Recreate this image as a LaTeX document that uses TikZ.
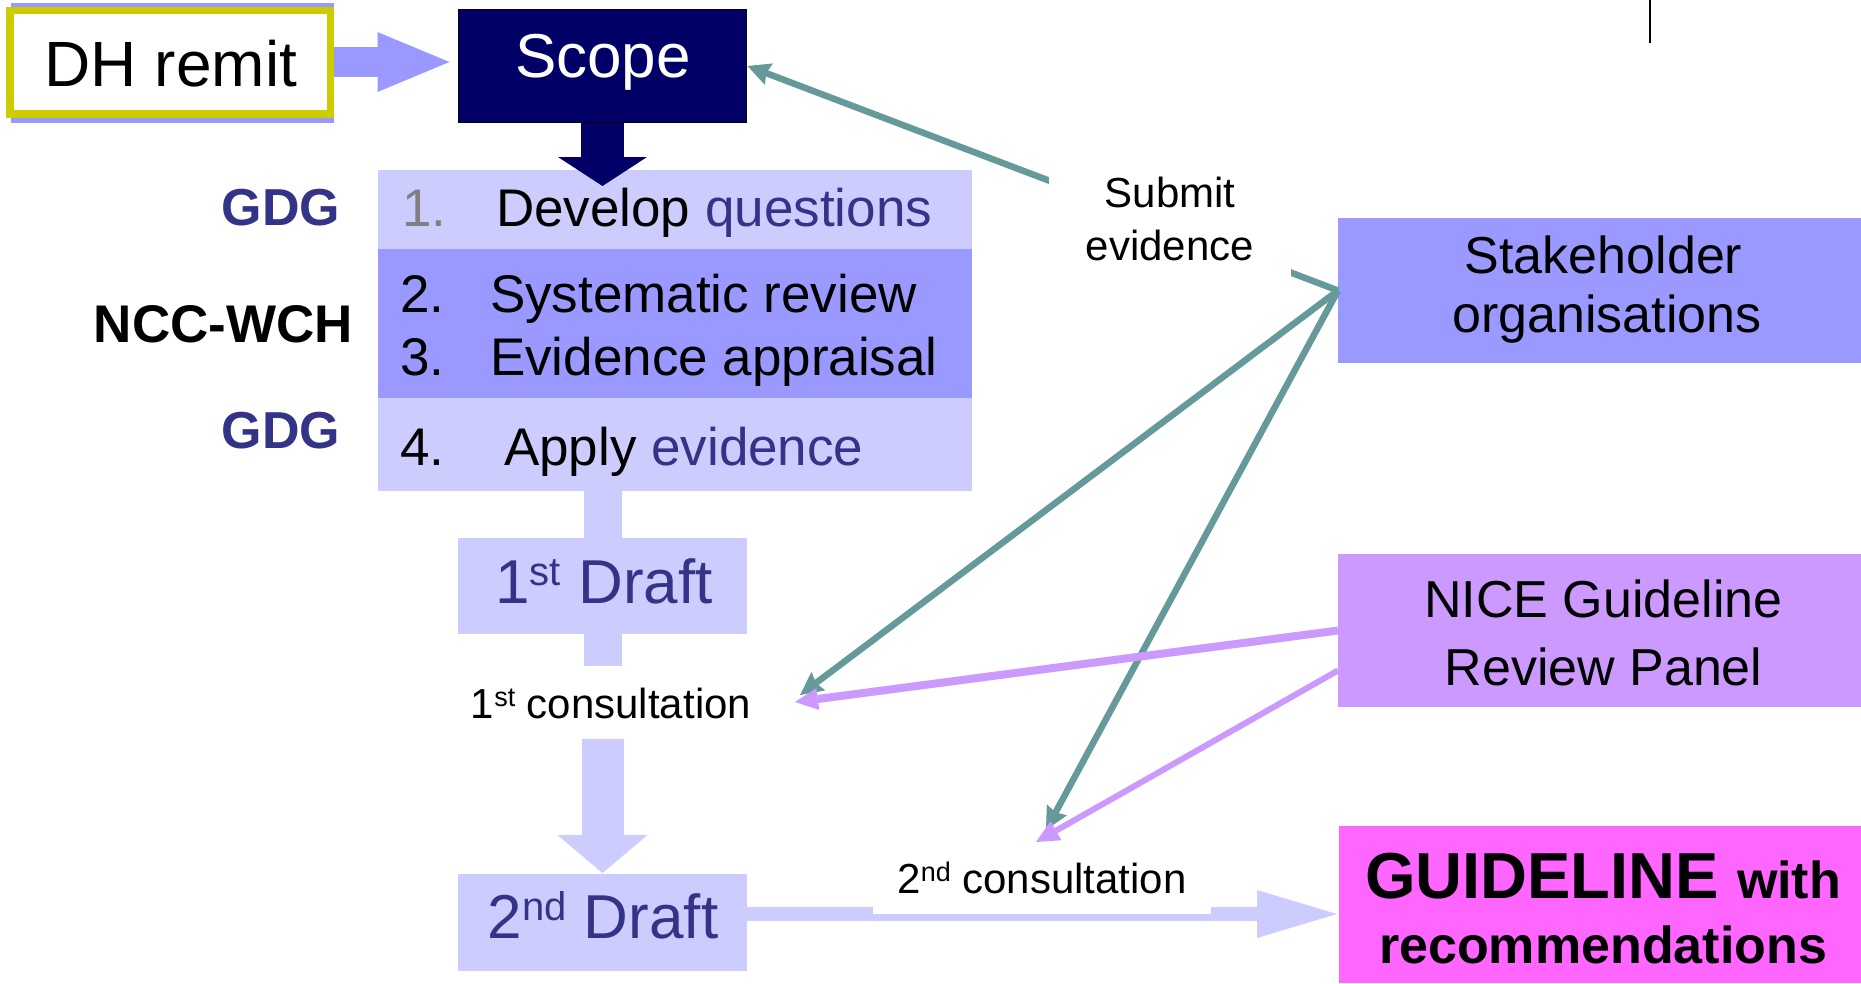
\documentclass[tikz,border=0pt]{standalone}
\usepackage{fontspec}
\setmainfont{Liberation Sans}
\usetikzlibrary{arrows.meta,calc,backgrounds}
\definecolor{lav}{HTML}{CCCCFF}
\definecolor{peri}{HTML}{9999FF}
\definecolor{navyb}{HTML}{000066}
\definecolor{lilac}{HTML}{CC99FF}
\definecolor{pinkg}{HTML}{FF66FF}
\definecolor{tealc}{HTML}{669999}
\definecolor{ylw}{HTML}{CCCC00}
\definecolor{txtpurple}{HTML}{333388}
\definecolor{numgray}{HTML}{808080}
\newcommand\fsz[1]{\fontsize{#1}{#1}\selectfont}
% superscript: size, raise
\newcommand\supx[3]{\raisebox{#2pt}{\fontsize{#1}{#1}\selectfont #3}}
\begin{document}
\begin{tikzpicture}[x=1pt,y=-1pt,
  box/.style={inner sep=0pt, outer sep=0pt, draw=none},
  lbl/.style={inner sep=0pt, outer sep=0pt, anchor=base},
  tealarrow/.style={draw=tealc, line width=6.5pt, -{Stealth[length=23pt,width=23pt,inset=3pt,line width=0pt]}},
  lilacarrow/.style={draw=lilac, line width=#1, -{Triangle[length=23pt,width=22pt,line width=0pt]}},
  shaft/.style={draw=lav, line width=38pt}
]
\useasboundingbox (0,0) rectangle (1861,983);
\begin{scope}[on background layer]
  \fill[white] (0,0) rectangle (1861,983);
\end{scope}

% DH remit
\node[box, fill=peri, minimum width=323pt, minimum height=120pt] (dhshadow) at (172.5,63) {};
\node[box, draw=ylw, line width=7.5pt, fill=white, minimum width=320.5pt, minimum height=103.5pt] (dh) at (170,62) {};
\node[lbl] (dhtext) at (171,86) {\fsz{64}DH remit};

% Scope
\node[box, fill=navyb, draw=black, line width=1pt, minimum width=288pt, minimum height=113pt] (scope) at (602.5,66) {};
\node[lbl, text=white] (scopetext) at (603,77) {\fsz{62}Scope};

\draw[draw=peri, line width=30pt, -{Triangle[length=72pt,width=60pt,line width=0pt]}, shorten <=3.75pt]
  (dh.east) -- ([xshift=-9pt]dh.east -| scope.west);

% Steps
\node[box, fill=lav, minimum width=594pt, minimum height=79pt] (dev) at (675,209.5) {};
\node[box, fill=peri, minimum width=594pt, minimum height=149pt] (sys) at (675,323.5) {};
\node[box, fill=lav, minimum width=594pt, minimum height=93pt] (app) at (675,444.5) {};

\draw[draw=navyb, line width=43pt, -{Triangle[length=29pt,width=89pt,line width=0pt]}]
  (scope.south) -- ($(scope.south |- dev.north)+(0,16)$);

\node[lbl, anchor=base west, text=numgray] (n1) at (402,226) {\fsz{53}1.};
\node[lbl, anchor=base west] (t1) at (496,226) {\fsz{53}Develop \textcolor{txtpurple}{questions}};
\node[lbl, anchor=base west] (n2) at (400,312) {\fsz{53}2.};
\node[lbl, anchor=base west] (t2) at (490,312) {\fsz{53}Systematic review};
\node[lbl, anchor=base west] (n3) at (400,375) {\fsz{53}3.};
\node[lbl, anchor=base west] (t3) at (490,375) {\fsz{53}Evidence appraisal};
\node[lbl, anchor=base west] (n4) at (400,465) {\fsz{53}4.};
\node[lbl, anchor=base west] (t4) at (504,465) {\fsz{53}Apply \textcolor{txtpurple}{evidence}};

\node[lbl, anchor=base east, font=\bfseries, text=txtpurple] (gdg1) at (340,225) {\fsz{52}GDG};
\node[lbl, anchor=base east, font=\bfseries] (ncc) at (353,342) {\fsz{53}NCC-WCH};
\node[lbl, anchor=base east, font=\bfseries, text=txtpurple] (gdg2) at (340,448) {\fsz{52}GDG};

% Drafts
\node[box, fill=lav, minimum width=289pt, minimum height=96pt] (draft1) at (602.5,586) {};
\node[lbl, text=txtpurple] (d1text) at (604,603) {\fsz{62}1\supx{40}{18}{st} Draft};
\node[lbl, text height=52pt, text depth=21pt] (c1) at (611,718) {\fsz{42}1\supx{27}{12}{st} consultation};

\node[box, fill=lav, minimum width=289pt, minimum height=97pt] (draft2) at (602.5,922.5) {};
\node[lbl, text=txtpurple] (d2text) at (603,938) {\fsz{62}2\supx{40}{18}{nd} Draft};

% Guideline
\node[box, fill=pinkg, minimum width=522pt, minimum height=157pt] (guide) at (1600,904.5) {};
\node[lbl, font=\bfseries] (g1) at (1603,898) {\fsz{65}GUIDELINE \fsz{52}with};
\node[lbl, font=\bfseries] (g2) at (1603,963) {\fsz{52}recommendations};

\node[fill=white, inner sep=0pt, text depth=20pt, minimum width=338pt, anchor=south] (c2) at (1042,914) {\fsz{42}2\supx{27}{12}{nd} consultation};

% Stakeholders and NICE
\node[box, fill=peri, minimum width=523pt, minimum height=145pt] (stake) at (1599.5,290.5) {};
\node[lbl] (s1) at (1603.5,273) {\fsz{52}Stakeholder};
\node[lbl] (s2) at (1607,332) {\fsz{52}organisations};

\node[box, fill=lilac, minimum width=523pt, minimum height=153pt] (nice) at (1599.5,630.5) {};
\node[lbl] (nc1) at (1603.5,617) {\fsz{52}NICE Guideline};
\node[lbl] (nc2) at (1603.5,685) {\fsz{52}Review Panel};

% Submit evidence
\draw[tealarrow] (stake.west) -- ([xshift=1pt]scope.east);
\node[box, fill=white, minimum width=242pt, minimum height=130pt] (submit) at (1170,218) {};
\node[lbl] (sub1) at (1170,207) {\fsz{42}Submit};
\node[lbl] (sub2) at (1170,260) {\fsz{42}evidence};

% consultation arrows
\coordinate (tc1) at (800,695);
\coordinate (lc1) at (795,702);
\coordinate (tc2) at (1046,830);
\coordinate (lc2) at (1036,842);
\draw[tealarrow] (stake.west) -- (tc1);
\draw[tealarrow] (stake.west) -- (tc2);
\draw[lilacarrow=8pt] (nice.west) -- (lc1);
\draw[lilacarrow=6pt] ([yshift=-40pt]nice.west) -- (lc2);

% small mark
\coordinate (m1) at (1650,0);
\coordinate (m2) at (1650,43);
\draw[black, line width=2pt] (m1) -- (m2);

% shafts behind
\begin{scope}[on background layer]
  \draw[shaft] (draft1.north |- app.south) -- (draft1.north);
  \draw[shaft] (draft1.south) -- (draft1.south |- c1.north);
  \draw[draw=lav, line width=42pt, -{Triangle[length=38pt,width=90pt,line width=0pt]}]
    (draft2.north |- c1.south) -- ([yshift=1pt]draft2.north);
  \draw[draw=lav, line width=14pt, -{Triangle[length=80pt,width=48pt,line width=0pt]}]
    (draft2.east |- c2.south) -- ([xshift=-2pt]guide.west |- c2.south);
\end{scope}
\end{tikzpicture}
\end{document}
